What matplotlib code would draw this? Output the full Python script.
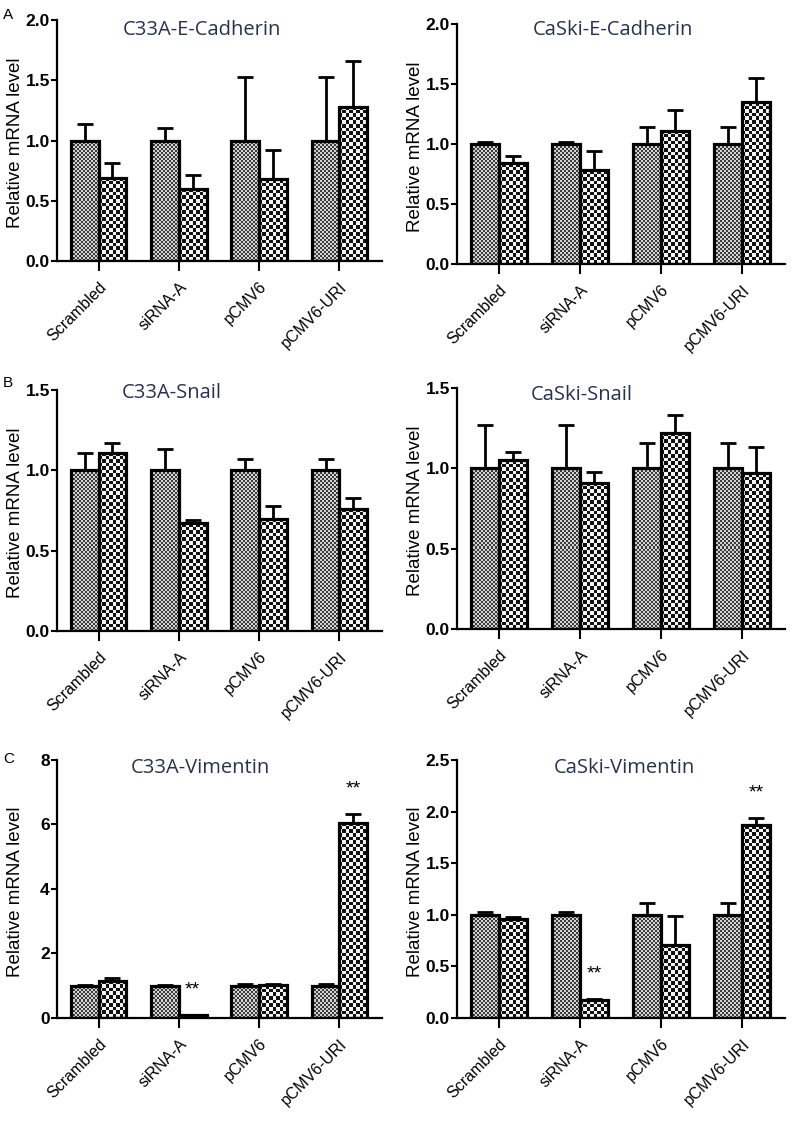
import numpy as np
import matplotlib
matplotlib.use('Agg')
import matplotlib.pyplot as plt
from matplotlib.colors import ListedColormap

plt.rcParams['font.family'] = ['Liberation Sans', 'DejaVu Sans']

# Datos
grupos = ['Scrambled', 'siRNA-A', 'pCMV6', 'pCMV6-URI']

c33a_ecad_ctrl = [1.0, 1.0, 1.0, 1.0]
c33a_ecad_ctrl_err = [0.14, 0.10, 0.53, 0.53]
c33a_ecad_trat = [0.69, 0.60, 0.68, 1.28]
c33a_ecad_trat_err = [0.12, 0.11, 0.24, 0.38]

caski_ecad_ctrl = [1.0, 1.0, 1.0, 1.0]
caski_ecad_ctrl_err = [0.02, 0.02, 0.14, 0.14]
caski_ecad_trat = [0.84, 0.78, 1.11, 1.35]
caski_ecad_trat_err = [0.06, 0.16, 0.17, 0.20]

c33a_snail_ctrl = [1.0, 1.0, 1.0, 1.0]
c33a_snail_ctrl_err = [0.11, 0.13, 0.07, 0.07]
c33a_snail_trat = [1.11, 0.67, 0.70, 0.76]
c33a_snail_trat_err = [0.06, 0.02, 0.08, 0.07]

caski_snail_ctrl = [1.0, 1.0, 1.0, 1.0]
caski_snail_ctrl_err = [0.27, 0.27, 0.16, 0.16]
caski_snail_trat = [1.05, 0.91, 1.22, 0.97]
caski_snail_trat_err = [0.05, 0.07, 0.11, 0.16]

c33a_vim_ctrl = [1.0, 1.0, 1.0, 1.0]
c33a_vim_ctrl_err = [0.03, 0.03, 0.05, 0.05]
c33a_vim_trat = [1.15, 0.08, 1.02, 6.05]
c33a_vim_trat_err = [0.10, 0.02, 0.04, 0.28]

caski_vim_ctrl = [1.0, 1.0, 1.0, 1.0]
caski_vim_ctrl_err = [0.03, 0.03, 0.11, 0.11]
caski_vim_trat = [0.96, 0.17, 0.71, 1.87]
caski_vim_trat_err = [0.02, 0.01, 0.28, 0.07]

# significancia (serie tratada)
c33a_vim_sig = ['', '**', '', '**']
caski_vim_sig = ['', '**', '', '**']

ANCHO = 0.345
COLOR_TITULO = '#26324f'
CMAP_FINO = ListedColormap(['#3c3c3c', '#d4d4d4'])
CMAP_GRUESO = ListedColormap(['#111111', '#f4f4f4'])

fig = plt.figure(figsize=(8, 11.37), dpi=100)


def checker(ax, patch, celda, cmap):
    # rellena la barra con un damero de tamaño de celda en píxeles
    x0, y0 = patch.get_x(), patch.get_y()
    x1, y1 = x0 + patch.get_width(), y0 + patch.get_height()
    (px0, py0), (px1, py1) = ax.transData.transform([(x0, y0), (x1, y1)])
    nx = max(1, int(round(abs(px1 - px0) / celda)))
    ny = max(1, int(round(abs(py1 - py0) / celda)))
    arr = np.add.outer(np.arange(ny), np.arange(nx)) % 2
    im = ax.imshow(arr, extent=(x0, x1, y0, y1), origin='lower', cmap=cmap,
                   vmin=0, vmax=1, interpolation='nearest', aspect='auto', zorder=2)
    im.set_clip_path(patch)


def panel(rect, titulo, pos_titulo, ctrl, ctrl_err, trat, trat_err, ymax, yticks, yfmt, sig=None):
    ax = fig.add_axes(rect)
    x = np.arange(len(grupos))
    ax.set_xlim(-0.52, 3.53)
    ax.set_ylim(0, ymax)

    b1 = ax.bar(x - ANCHO / 2, ctrl, ANCHO, facecolor='none', edgecolor='black', linewidth=2.3, zorder=3)
    b2 = ax.bar(x + ANCHO / 2, trat, ANCHO, facecolor='none', edgecolor='black', linewidth=2.3, zorder=3)
    for p in b1:
        checker(ax, p, 2.0, CMAP_FINO)
    for p in b2:
        checker(ax, p, 3.6, CMAP_GRUESO)

    ax.errorbar(x - ANCHO / 2, ctrl, yerr=[np.zeros(4), ctrl_err], fmt='none', ecolor='black',
                elinewidth=2, capsize=5.5, capthick=2, zorder=4)
    ax.errorbar(x + ANCHO / 2, trat, yerr=[np.zeros(4), trat_err], fmt='none', ecolor='black',
                elinewidth=2, capsize=5.5, capthick=2, zorder=4)

    if sig:
        for i, s in enumerate(sig):
            if s:
                ax.annotate(s, (x[i] + ANCHO / 2, trat[i] + trat_err[i]), xytext=(0, 12),
                            textcoords='offset points', ha='center', va='bottom', fontsize=14)

    ax.text(pos_titulo[0], pos_titulo[1], titulo, transform=ax.transAxes, ha='center', va='center',
            fontsize=14.5, color=COLOR_TITULO, family='Open Sans')

    for s in ['top', 'right']:
        ax.spines[s].set_visible(False)
    for s in ['left', 'bottom']:
        ax.spines[s].set_linewidth(1.6)
    ax.set_yticks(yticks)
    ax.set_yticklabels([yfmt.format(v) for v in yticks], fontsize=12.5, fontweight='bold')
    ax.tick_params(axis='y', direction='out', length=4, width=1.5, pad=1)
    ax.set_xticks(x)
    ax.set_xticklabels(grupos, rotation=45, ha='right', rotation_mode='anchor', fontsize=11.5)
    ax.tick_params(axis='x', direction='out', length=7, width=1.5, pad=6)
    ax.set_ylabel('Relative mRNA level', fontsize=13.5)
    ax.yaxis.set_label_coords(-0.10, 0.49)
    return ax


panel([0.071, 0.7704, 0.4065, 0.212], 'C33A-E-Cadherin', (0.446, 0.958),
      c33a_ecad_ctrl, c33a_ecad_ctrl_err, c33a_ecad_trat, c33a_ecad_trat_err,
      2.0, [0, 0.5, 1.0, 1.5, 2.0], '{:.1f}')
panel([0.571, 0.7678, 0.410, 0.211], 'CaSki-E-Cadherin', (0.476, 0.975),
      caski_ecad_ctrl, caski_ecad_ctrl_err, caski_ecad_trat, caski_ecad_trat_err,
      2.0, [0, 0.5, 1.0, 1.5, 2.0], '{:.1f}')
panel([0.071, 0.445, 0.4065, 0.212], 'C33A-Snail', (0.354, 0.988),
      c33a_snail_ctrl, c33a_snail_ctrl_err, c33a_snail_trat, c33a_snail_trat_err,
      1.5, [0, 0.5, 1.0, 1.5], '{:.1f}')
panel([0.571, 0.4468, 0.410, 0.212], 'CaSki-Snail', (0.38, 0.971),
      caski_snail_ctrl, caski_snail_ctrl_err, caski_snail_trat, caski_snail_trat_err,
      1.5, [0, 0.5, 1.0, 1.5], '{:.1f}')
panel([0.071, 0.1047, 0.4065, 0.2269], 'C33A-Vimentin', (0.44, 0.969),
      c33a_vim_ctrl, c33a_vim_ctrl_err, c33a_vim_trat, c33a_vim_trat_err,
      8, [0, 2, 4, 6, 8], '{:d}', sig=c33a_vim_sig)
panel([0.571, 0.1047, 0.410, 0.2269], 'CaSki-Vimentin', (0.51, 0.969),
      caski_vim_ctrl, caski_vim_ctrl_err, caski_vim_trat, caski_vim_trat_err,
      2.5, [0, 0.5, 1.0, 1.5, 2.0, 2.5], '{:.1f}', sig=caski_vim_sig)

for letra, y in [('A', 0.993), ('B', 0.669), ('C', 0.339)]:
    fig.text(0.004, y, letra, fontsize=11, va='top', ha='left')

plt.savefig('out.png', dpi=100)
